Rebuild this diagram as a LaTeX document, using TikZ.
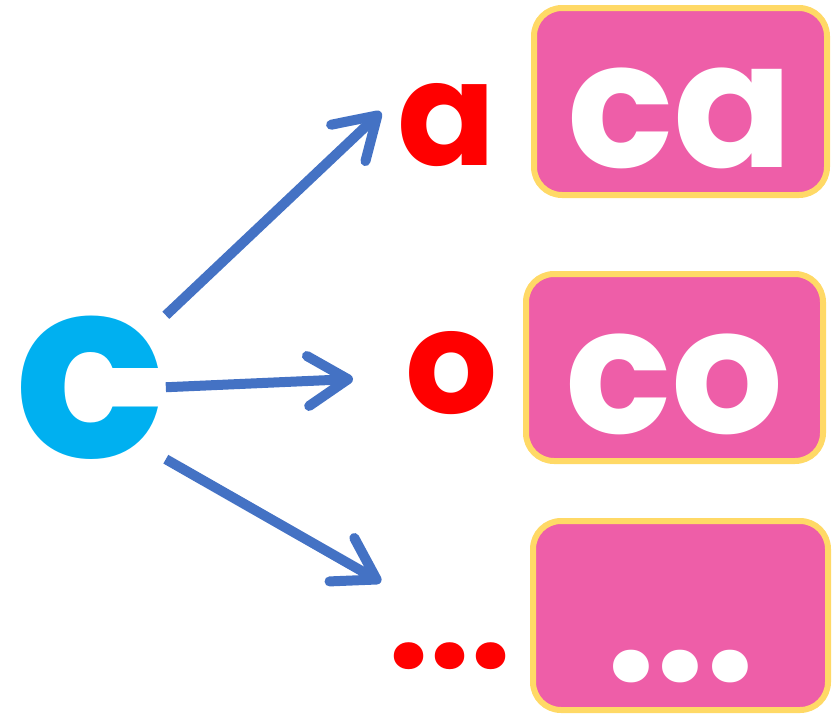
\documentclass[tikz,border=0pt]{standalone}
\usepackage{fontspec}
\setmainfont{Poppins}
\usetikzlibrary{arrows.meta}
\definecolor{cblue}{HTML}{00B0F0}
\definecolor{arrblue}{HTML}{4472C4}
\definecolor{boxpink}{HTML}{EE5EA8}
\definecolor{boxgold}{HTML}{FFD966}
\begin{document}
\begin{tikzpicture}[x=1pt,y=-1pt,
    arr/.style={draw=arrblue,line width=10pt,-{Straight Barb[length=40pt,width=50pt,round]}},
    letter/.style={text=red,inner sep=0pt,anchor=base,font=\fontsize{145}{145}\selectfont\bfseries},
    box/.style={draw=boxgold,fill=boxpink,line width=6pt,rounded corners=28pt,inner sep=0pt,
      text=white,font=\fontsize{176}{176}\selectfont\bfseries,text height=131pt,text depth=0pt,minimum height=187pt}]
      \useasboundingbox (0,0) rectangle (833,715);
      \node [text=cblue,inner sep=0pt,anchor=base,font=\fontsize{250}{250}\selectfont\bfseries] (c) at (90,457) {c};
      \node [letter] (a) at (447,165) {a};
      \node [letter] (o) at (452,413) {o};
      \node [letter] (dots) at (450,668) {...};
      \node [box,minimum width=293pt] (ca) at (680.5,101.5) {ca};
      \node [box,minimum width=297pt] (co) at (674.5,367.5) {co};
      \node [box,minimum width=295pt,minimum height=189pt] (more) at (680.5,615.5) {...};
      \coordinate (tipa) at (381,112);
      \coordinate (tipo) at (353,379);
      \coordinate (tipd) at (381,582);
      \path
      (c.north east) edge [arr] (tipa)
      (c.east) edge [arr] (tipo)
      (c.south east) edge [arr] (tipd)
      ;
  \end{tikzpicture}
\end{document}
